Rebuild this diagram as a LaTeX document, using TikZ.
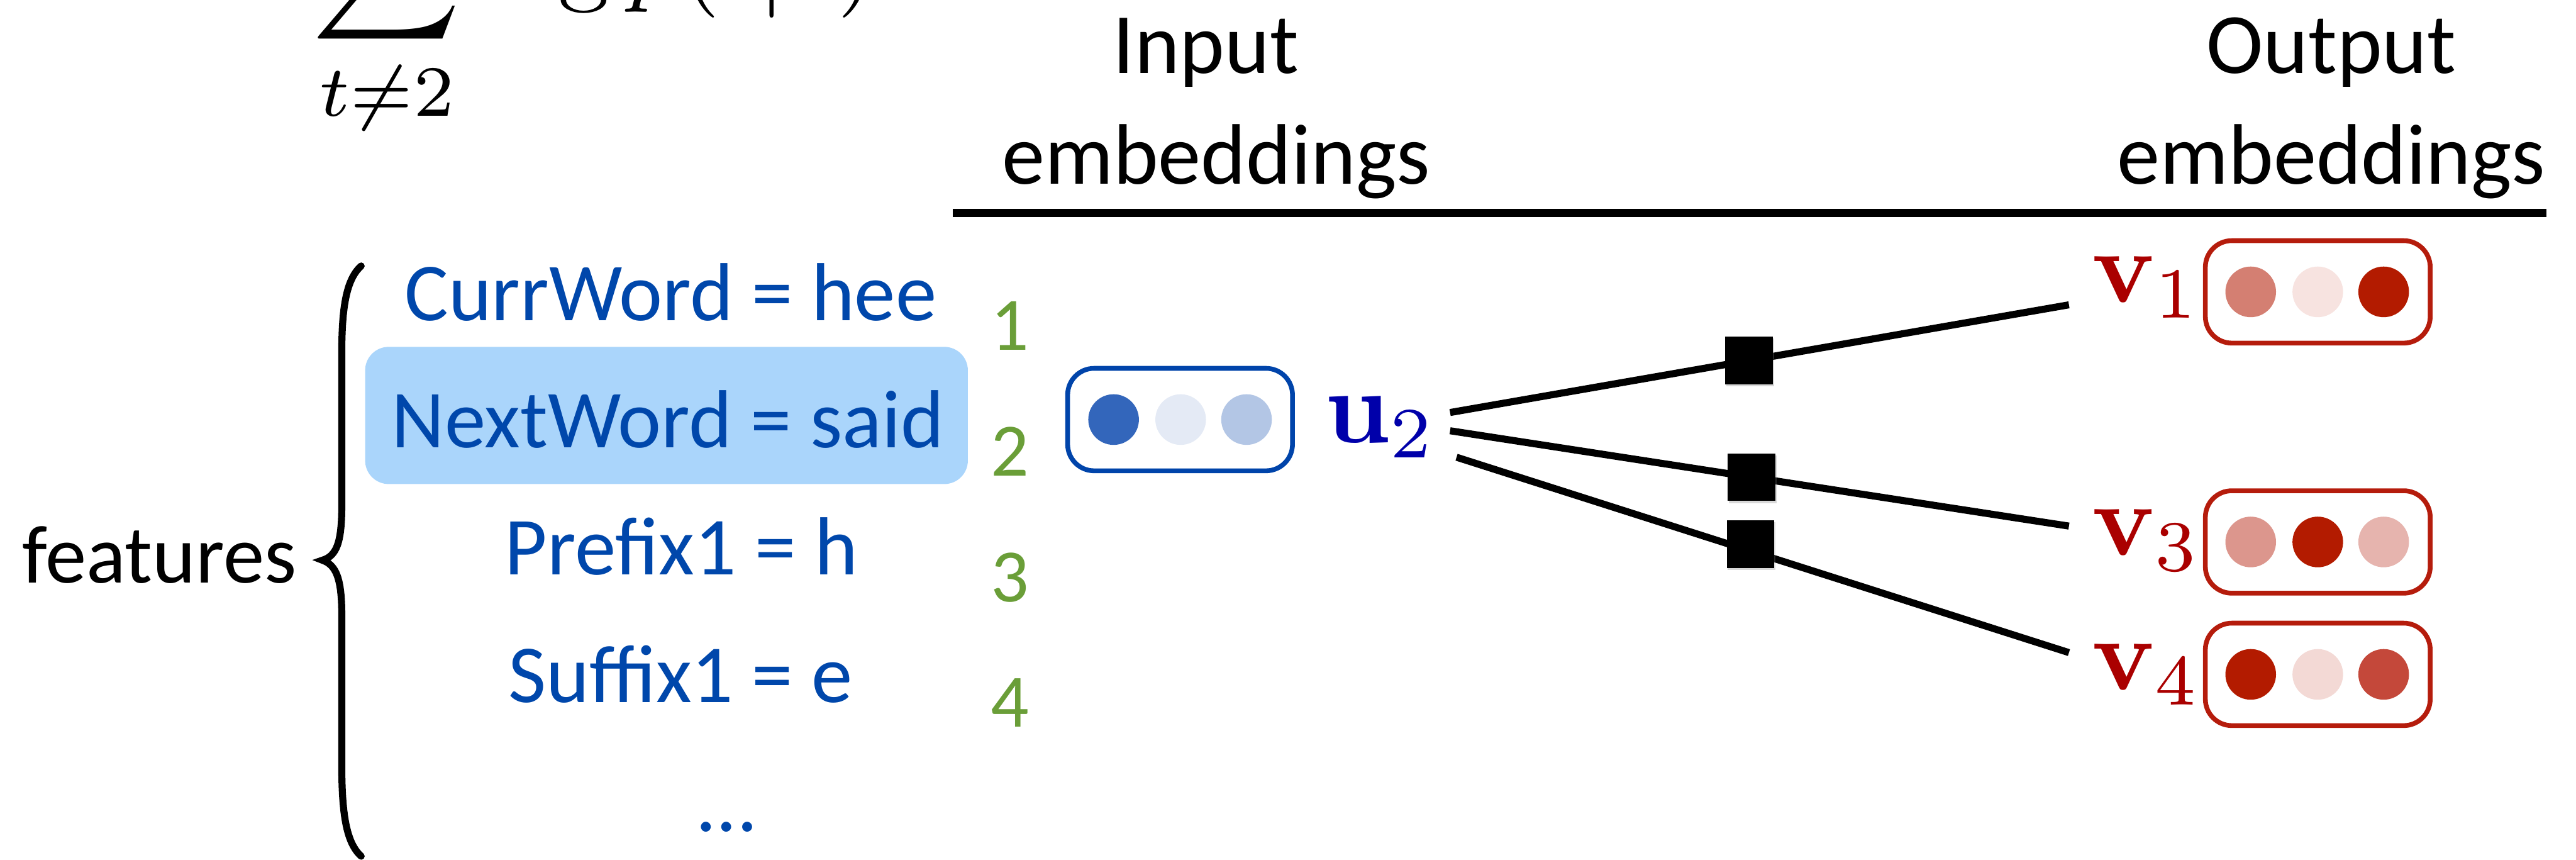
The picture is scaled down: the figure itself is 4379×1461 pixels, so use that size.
\documentclass[tikz,border=0pt]{standalone}
\usepackage[no-math]{fontspec}
\usepackage{graphicx}
\usetikzlibrary{shadows}
\newfontfamily\calibri{Carlito}

\definecolor{featblue}{HTML}{0047AB}
\definecolor{hlblue}{HTML}{AAD5FB}
\definecolor{numgreen}{HTML}{6A9E38}
\definecolor{ublue}{HTML}{0000AA}
\definecolor{uborder}{HTML}{0044AA}
\definecolor{uA}{HTML}{3366BB}
\definecolor{uB}{HTML}{E4EAF5}
\definecolor{uC}{HTML}{B3C6E5}
\definecolor{vred}{HTML}{AA0000}
\definecolor{vborder}{HTML}{B51C0C}
\definecolor{rdark}{HTML}{B31B00}
\definecolor{rmidA}{HTML}{D47F72}
\definecolor{rlightA}{HTML}{F7E3E0}
\definecolor{rmidB}{HTML}{DC968D}
\definecolor{rlightB}{HTML}{E6B4AE}
\definecolor{rlightC}{HTML}{F3D9D5}
\definecolor{rmidC}{HTML}{C4483A}

\begin{document}
\begin{tikzpicture}[x=0.01cm,y=-0.01cm,
  txt/.style={font=\calibri\fontsize{39.8}{48}\selectfont, anchor=base, inner sep=0pt},
  feat/.style={txt, text=featblue},
  num/.style={font=\calibri\fontsize{36.4}{44}\selectfont, text=numgreen, anchor=base, inner sep=0pt},
  head/.style={font=\calibri\fontsize{41.5}{50}\selectfont, anchor=base, inner sep=0pt},
  embbox/.style={draw, line width=2.3pt, rounded corners=0.45cm, minimum width=3.82cm, minimum height=1.74cm, inner sep=0pt},
  dot/.style={circle, inner sep=0pt, minimum size=0.86cm},
  conn/.style={line width=3.4pt},
  factor/.style={fill=black, minimum size=0.81cm, inner sep=0pt,
    drop shadow={shadow xshift=0.6pt, shadow yshift=-1pt, opacity=0.3}},
  mlabel/.style={anchor=base west, inner sep=0pt}
]
\useasboundingbox (0,0) rectangle (4379,1461);
\clip (0,0) rectangle (4379,1461);

% objective (only its lower part lies inside the frame)
\node[anchor=base west, inner sep=0pt] (obj) at (530,-13)
  {\scalebox{4.98}{$\displaystyle\sum_{t\neq 2}\log p(t|2)$}};

% column headers
\node[head] (inhead1) at (2050,125) {Input};
\node[head] (inhead2) at (2067,313) {embeddings};
\node[head] (outhead1) at (3963,125) {Output};
\node[head] (outhead2) at (3963,313) {embeddings};
\coordinate (ruleL) at (1620,362);
\coordinate (ruleR) at (4329,362);
\draw[line width=4pt] (ruleL) -- (ruleR);

% feature list
\node[fill=hlblue, rounded corners=0.4cm, minimum width=10.24cm, minimum height=2.33cm, inner sep=0pt] (hl) at (1133,706) {};
\node[feat] (f1) at (1140,545) {CurrWord = hee};
\node[feat] (f2) at (1135,761) {NextWord = said};
\node[feat] (f3) at (1158,977) {Prefix1 = h};
\node[feat] (f4) at (1157,1194) {Suffix1 = e};
\node[feat] (f5) at (1235,1413) {…};

\node[num] (n1) at (1717,595) {1};
\node[num] (n2) at (1717,809) {2};
\node[num] (n3) at (1717,1023) {3};
\node[num] (n4) at (1717,1235) {4};

\node[txt, anchor=base east] (feats) at (505,990) {features};
\draw[line width=3.4pt, line cap=round]
  (614,452) .. controls (588,475) and (581,525) .. (581,600)
  -- (581,860) .. controls (581,922) and (572,945) .. (548,952)
  .. controls (572,960) and (581,985) .. (581,1045)
  -- (581,1300) .. controls (581,1380) and (588,1432) .. (614,1455);

% input embedding
\node[embbox, draw=uborder] (ubox) at (2006,713) {};
\node[dot, fill=uA] (u2a) at (1893,713) {};
\node[dot, fill=uB] (u2b) at (2007,713) {};
\node[dot, fill=uC] (u2c) at (2119,713) {};
\node[mlabel, text=ublue] (u2) at (2251,752) {\scalebox{4.98}{$\mathbf{u}_2$}};

% output embeddings
\node[embbox, draw=vborder] (v1box) at (3940,496) {};
\node[dot, fill=rmidA] (v1a) at (3826,496) {};
\node[dot, fill=rlightA] (v1b) at (3940,496) {};
\node[dot, fill=rdark] (v1c) at (4052,496) {};
\node[mlabel, text=vred] (v1) at (3556,514) {\scalebox{4.98}{$\mathbf{v}_1$}};

\node[embbox, draw=vborder] (v3box) at (3940,921) {};
\node[dot, fill=rmidB] (v3a) at (3826,921) {};
\node[dot, fill=rdark] (v3b) at (3940,921) {};
\node[dot, fill=rlightB] (v3c) at (4052,921) {};
\node[mlabel, text=vred] (v3) at (3556,944) {\scalebox{4.98}{$\mathbf{v}_3$}};

\node[embbox, draw=vborder] (v4box) at (3940,1146) {};
\node[dot, fill=rdark] (v4a) at (3826,1146) {};
\node[dot, fill=rlightC] (v4b) at (3940,1146) {};
\node[dot, fill=rmidC] (v4c) at (4052,1146) {};
\node[mlabel, text=vred] (v4) at (3556,1172) {\scalebox{4.98}{$\mathbf{v}_4$}};

% connectors with factor squares
\coordinate (s1) at (2465,701);
\coordinate (s3) at (2465,732);
\coordinate (s4) at (2476,777);
\coordinate (e1) at (3517,518);
\coordinate (e3) at (3517,894);
\coordinate (e4) at (3517,1109);
\draw[conn] (s1) -- node[factor, pos=0.483] (fac1) {} (e1);
\draw[conn] (s3) -- node[factor, pos=0.487] (fac3) {} (e3);
\draw[conn] (s4) -- node[factor, pos=0.48, yshift=0.12cm] (fac4) {} (e4);
\end{tikzpicture}
\end{document}
